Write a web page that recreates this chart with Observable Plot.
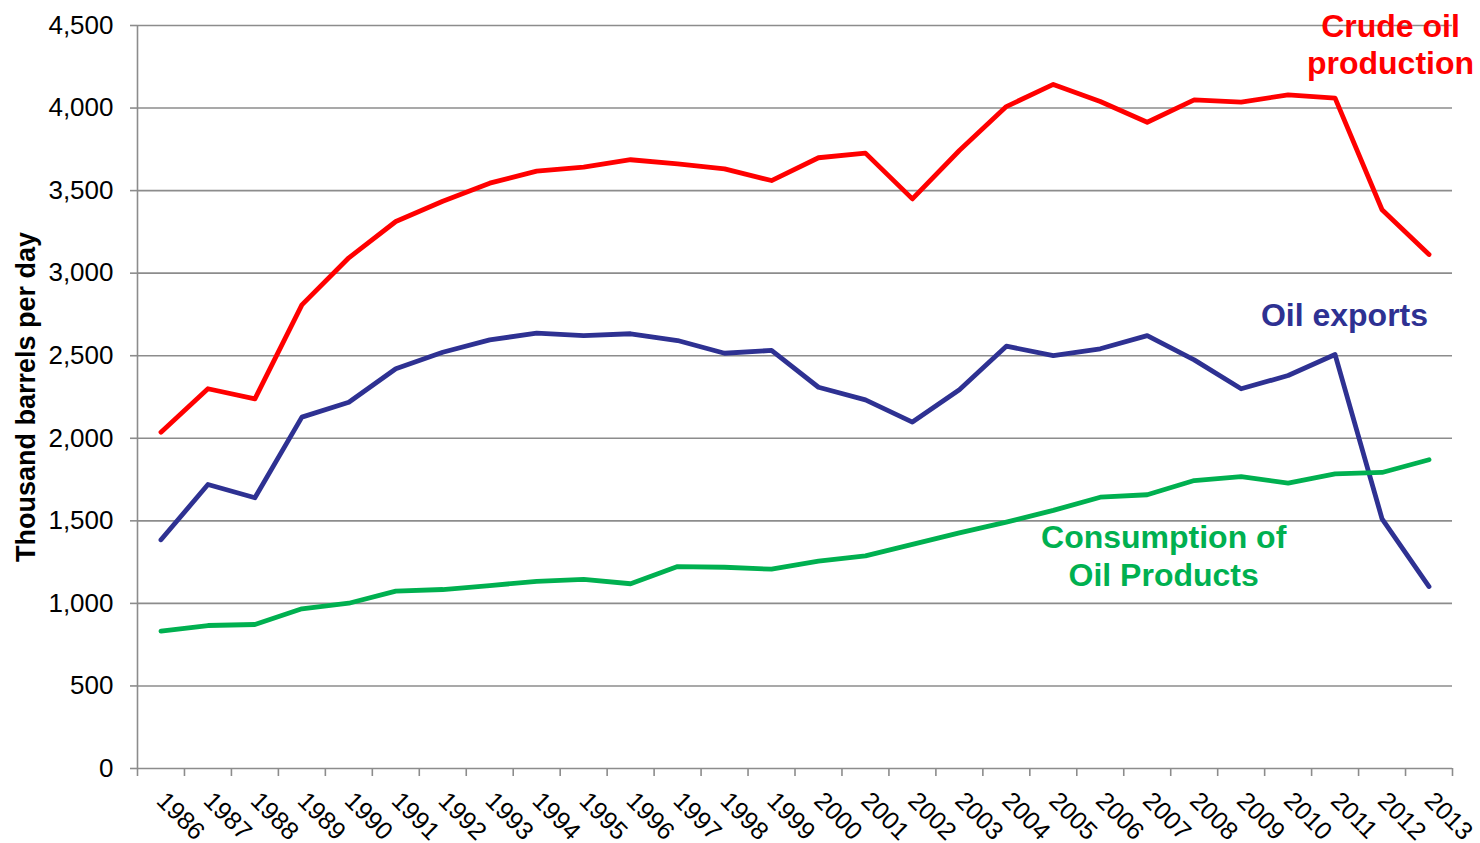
<!DOCTYPE html>
<html>
<head>
<meta charset="utf-8">
<script src="https://cdn.jsdelivr.net/npm/d3@7"></script>
<script src="https://cdn.jsdelivr.net/npm/@observablehq/plot@0.6"></script>
<style>
  html, body { margin: 0; padding: 0; background: #fff; }
  #chart { width: 1480px; height: 843px; }
</style>
</head>
<body>
<div id="chart"></div>
<script>
const years = [1986,1987,1988,1989,1990,1991,1992,1993,1994,1995,1996,1997,1998,1999,2000,2001,2002,2003,2004,2005,2006,2007,2008,2009,2010,2011,2012,2013];
const crudeProduction = [2037,2300,2239,2808,3093,3313,3436,3545,3618,3642,3687,3662,3632,3561,3699,3727,3450,3743,4009,4143,4040,3914,4050,4036,4080,4060,3384,3113];
const oilExports = [1385,1720,1640,2128,2218,2421,2521,2596,2637,2622,2633,2592,2515,2532,2309,2233,2098,2294,2558,2500,2542,2622,2475,2300,2380,2507,1512,1102];
const consumption = [832,866,872,967,1001,1074,1084,1108,1133,1145,1119,1223,1219,1207,1256,1288,1357,1427,1492,1563,1643,1658,1744,1768,1728,1785,1793,1870];
const yTicks = [0,500,1000,1500,2000,2500,3000,3500,4000,4500];
const seriesNames = ["Crude oil production", "Oil exports", "Consumption of Oil Products"];
const seriesLabels = ["Crude oil\nproduction", "Oil exports", "Consumption of\nOil Products"];
const seriesColors = ["#FF0000", "#2E3192", "#00B050"];
const yTitle = "Thousand barrels per day";

const seriesValues = [crudeProduction, oilExports, consumption];
const rows = [];
seriesNames.forEach((s, k) => years.forEach((yr, i) => rows.push({series: s, year: yr, value: seriesValues[k][i]})));

const xDomain = [years[0] - 0.5, years[years.length - 1] + 0.5];
const boundaries = years.map(y => y - 0.5).concat([years[years.length - 1] + 0.5]);

// label anchor positions (data units) for the annotations
const labelPos = [
  {x: 2012.18, y: 4390},
  {x: 2011.2, y: 2755},
  {x: 2007.35, y: 1293}
];
const annotations = seriesLabels.map((t, k) => ({text: t, color: seriesColors[k], ...labelPos[k]}));

const gridColor = "#8C8C8C";
const font = "'Liberation Sans', Arial, Helvetica, sans-serif";

const chart = Plot.plot({
  width: 1480,
  height: 843,
  marginLeft: 137,
  marginRight: 28,
  marginTop: 25,
  marginBottom: 75,
  style: {fontFamily: font, fontSize: "26px", color: "#000", background: "#fff", overflow: "visible"},
  x: {type: "linear", domain: xDomain},
  y: {domain: [0, 4500]},
  marks: [
    Plot.ruleY(yTicks, {stroke: gridColor, strokeWidth: 1.6}),
    Plot.ruleX([xDomain[0]], {stroke: gridColor, strokeWidth: 1.6}),
    Plot.axisY(yTicks, {tickFormat: d3.format(","), tickSize: 7, tickPadding: 17, stroke: gridColor, strokeWidth: 1.6, fontSize: 26, label: null}),
    Plot.axisX(boundaries, {tickFormat: () => "", tickSize: 8, stroke: gridColor, strokeWidth: 1.6, label: null}),
    Plot.axisX(years, {tickFormat: d => String(d), tickSize: 0, tickPadding: 28, tickRotate: 45, fontSize: 25, label: null}),
    Plot.line(rows, {x: "year", y: "value", z: "series", stroke: d => seriesColors[seriesNames.indexOf(d.series)], strokeWidth: 4.8, strokeLinejoin: "round", strokeLinecap: "round"}),
    Plot.text(annotations, {x: "x", y: "y", text: "text", fill: d => d.color, fontSize: 32, fontWeight: "bold", lineHeight: 1.17, textAnchor: "middle"}),
    Plot.text([yTitle], {frameAnchor: "left", textAnchor: "middle", rotate: -90, dx: -111, fontSize: 27, fontWeight: "bold", fill: "#000"})
  ]
});
chart.setAttribute("font-family", font);
document.getElementById("chart").appendChild(chart);
</script>
</body>
</html>
